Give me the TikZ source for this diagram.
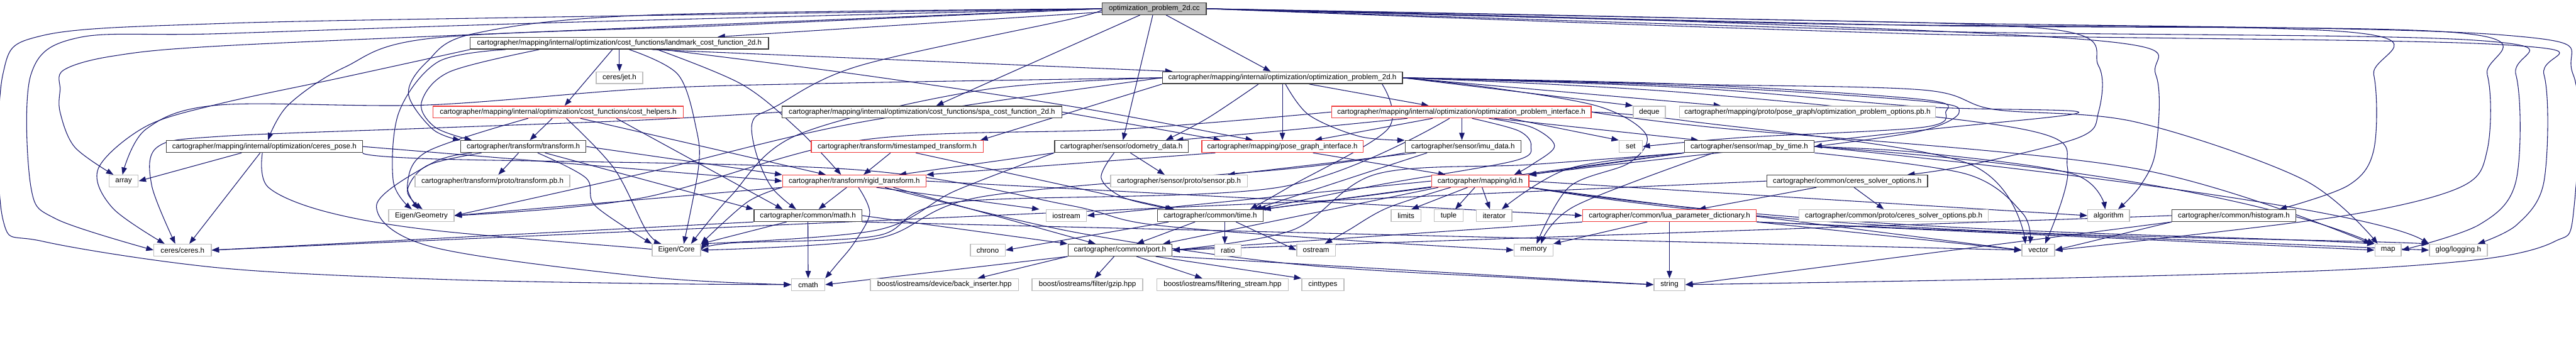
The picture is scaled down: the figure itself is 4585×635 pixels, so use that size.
\documentclass[tikz,border=0pt]{standalone}
\usepackage{fontspec}
\setmainfont{Liberation Sans}
\usetikzlibrary{arrows.meta}
\pgfdeclarelayer{bg}
\pgfsetlayers{bg,main}
\definecolor{eblue}{HTML}{191970}
\definecolor{gb}{HTML}{BFBFBF}
\definecolor{rb}{HTML}{F03C3C}
\definecolor{kb}{HTML}{404040}
\newcommand\nd[6]{\node[#6, minimum width={(#3-#2)*0.5pt}] (#1) at ({(#2+#3)/2},#4) {#5};}
\newcommand\ep[1]{\draw[e] plot[smooth,tension=0.55] coordinates {#1};}
\begin{document}
\begin{tikzpicture}[x=0.5pt,y=-0.5pt,
  bx/.style={rectangle, inner sep=0pt, minimum height=10.5pt, fill=white, line width=0.8pt, font=\fontsize{6.5}{7}\selectfont, text=black},
  nblk/.style={bx, draw=kb},
  ngry/.style={bx, draw=gb},
  nred/.style={bx, draw=rb},
  nmain/.style={bx, draw=kb, fill=gb},
  e/.style={draw=eblue, line width=0.6pt, -{Triangle[length=6.5pt,width=4.8pt]}}]
\useasboundingbox (0,0) rectangle (4585,635);
% nodes
\nd{cc}{1962}{2147}{15.5}{optimization\_problem\_2d.cc}{nmain}
\nd{lm}{837}{1368}{77}{cartographer/mapping/internal/optimization/cost\_functions/landmark\_cost\_function\_2d.h}{nblk}
\nd{jet}{1061}{1144}{138.5}{ceres/jet.h}{ngry}
\nd{op2}{2069}{2496}{138.5}{cartographer/mapping/internal/optimization/optimization\_problem\_2d.h}{nblk}
\nd{ch}{771}{1216}{199.5}{cartographer/mapping/internal/optimization/cost\_functions/cost\_helpers.h}{nred}
\nd{spa}{1392}{1890}{199.5}{cartographer/mapping/internal/optimization/cost\_functions/spa\_cost\_function\_2d.h}{nblk}
\nd{opi}{2370}{2832}{199.5}{cartographer/mapping/internal/optimization/optimization\_problem\_interface.h}{nred}
\nd{deque}{2907}{2964}{199.5}{deque}{ngry}
\nd{opo}{2989}{3445}{199.5}{cartographer/mapping/proto/pose\_graph/optimization\_problem\_options.pb.h}{ngry}
\nd{cp}{296}{645}{261}{cartographer/mapping/internal/optimization/ceres\_pose.h}{nblk}
\nd{tf}{820}{1043}{261}{cartographer/transform/transform.h}{nblk}
\nd{tst}{1444}{1750}{261}{cartographer/transform/timestamped\_transform.h}{nred}
\nd{odo}{1877}{2115}{261}{cartographer/sensor/odometry\_data.h}{nblk}
\nd{pgi}{2139}{2426}{261}{cartographer/mapping/pose\_graph\_interface.h}{nred}
\nd{imu}{2501}{2707}{261}{cartographer/sensor/imu\_data.h}{nblk}
\nd{set}{2882}{2923}{261}{set}{ngry}
\nd{mbt}{2998}{3229}{261}{cartographer/sensor/map\_by\_time.h}{nblk}
\nd{arr}{194}{246}{322.5}{array}{ngry}
\nd{tpb}{739}{1014}{322.5}{cartographer/transform/proto/transform.pb.h}{ngry}
\nd{rt}{1393}{1648}{322.5}{cartographer/transform/rigid\_transform.h}{nred}
\nd{spb}{1977}{2220}{322.5}{cartographer/sensor/proto/sensor.pb.h}{ngry}
\nd{id}{2548}{2721}{322.5}{cartographer/mapping/id.h}{nred}
\nd{cso}{3145}{3431}{322.5}{cartographer/common/ceres\_solver\_options.h}{nblk}
\nd{eg}{692}{808}{384}{Eigen/Geometry}{ngry}
\nd{math}{1342}{1534}{384}{cartographer/common/math.h}{nblk}
\nd{ios}{1862}{1934}{384}{iostream}{ngry}
\nd{time}{2060}{2248}{384}{cartographer/common/time.h}{nblk}
\nd{lim}{2476}{2529}{384}{limits}{ngry}
\nd{tup}{2553}{2604}{384}{tuple}{ngry}
\nd{itr}{2628}{2691}{384}{iterator}{ngry}
\nd{lua}{2817}{3126}{384}{cartographer/common/lua\_parameter\_dictionary.h}{nred}
\nd{csopb}{3202}{3539}{384}{cartographer/common/proto/ceres\_solver\_options.pb.h}{ngry}
\nd{alg}{3716}{3790}{384}{algorithm}{ngry}
\nd{hist}{3866}{4086}{384}{cartographer/common/histogram.h}{nblk}
\nd{ceres}{274}{376}{445.5}{ceres/ceres.h}{ngry}
\nd{ec}{1161}{1247}{445.5}{Eigen/Core}{ngry}
\nd{chr}{1727}{1789}{445.5}{chrono}{ngry}
\nd{port}{1901}{2086}{445.5}{cartographer/common/port.h}{nblk}
\nd{ratio}{2162}{2209}{445.5}{ratio}{ngry}
\nd{ost}{2308}{2377}{445.5}{ostream}{ngry}
\nd{mem}{2695}{2764}{445.5}{memory}{ngry}
\nd{vec}{3599}{3657}{445.5}{vector}{ngry}
\nd{map}{4227}{4274}{445.5}{map}{ngry}
\nd{glog}{4324}{4427}{445.5}{glog/logging.h}{ngry}
\nd{cmath}{1409}{1468}{507}{cmath}{ngry}
\nd{bi}{1549}{1813}{507}{boost/iostreams/device/back\_inserter.hpp}{ngry}
\nd{gz}{1837}{2034}{507}{boost/iostreams/filter/gzip.hpp}{ngry}
\nd{fs}{2059}{2293}{507}{boost/iostreams/filtering\_stream.hpp}{ngry}
\nd{cint}{2317}{2392}{507}{cinttypes}{ngry}
\nd{str}{2944}{2999}{507}{string}{ngry}
\begin{pgfonlayer}{bg}
% cc
\draw[e] (cc) -- (op2);
\draw[e] (cc) -- (odo);
\draw[e] (cc) -- (spa);
\draw[e] (cc) -- (lm);
\ep{(cc.west) (1300,45) (770,68) (613,120) (513,187) (cp.north -| 477,0)}
\ep{(cc.west) (1000,55) (390,82) (200,100) (113,125) (107,160) (107,200) (133,262) (arr.north -| 202,0)}
\ep{(cc.west) (1000,40) (390,60) (140,67) (55,133) (55,333) (100,390) (ceres.west)}
\ep{(cc.west) (1000,30) (390,42) (77,63) (5,133) (5,390) (77,430) (390,477) (770,497) (1150,505) (cmath.west)}
\ep{(cc.west) (1150,27) (843,60) (760,110) (727,167) (770,230) (tf.north west)}
\ep{(cc.west) (1910,33) (1530,117) (1380,190) (1340,215) (1345,270) (1373,333) (math.north -| 1417,0)}
\ep{(cc.east) (3000,32) (3650,52) (3735,117) (3735,200) (3700,245) (3500,295) (cso.north -| 3395,0)}
\ep{(cc.east) (3000,38) (3760,75) (3837,133) (3837,267) (3810,330) (alg.north -| 3770,0)}
\ep{(cc.east) (3200,42) (4180,57) (4225,133) (4225,267) (4180,330) (hist.north -| 4057,0)}
\ep{(cc.east) (3400,45) (4370,58) (4427,133) (4427,267) (4380,333) (4180,383) (3800,430) (vec.east)}
\ep{(cc.east) (3400,55) (4410,72) (4478,133) (4478,323) (4413,400) (map.east)}
\ep{(cc.east) (3400,60) (4460,80) (4528,133) (4528,323) (4480,400) (glog.north -| 4410,0)}
\ep{(cc.east) (3400,40) (4450,62) (4580,133) (4580,383) (4547,430) (4430,460) (4180,480) (3800,492) (3420,500) (str.east)}
% lm
\draw[e] (lm.south -| 1160,0) -- (op2.north -| 2087,0);
\draw[e] (lm) -- (jet);
\draw[e] (lm.south -| 1090,0) -- (ch.north -| 1005,0);
\ep{(lm.south -| 1180,0) (1530,133) (1910,190) (pgi.north -| 2230,0)}
\ep{(lm.south -| 960,0) (800,128) (750,183) (775,227) (tf.north -| 840,0)}
\ep{(lm.south -| 1170,0) (1320,150) (1420,230) (rt.north -| 1497,0)}
\ep{(lm.south -| 1120,0) (1207,133) (1240,233) (1243,300) (ec.north -| 1217,0)}
\ep{(lm.south -| 900,0) (780,110) (710,200) (700,323) (eg.north -| 733,0)}
\ep{(lm.south west) (600,140) (390,185) (260,225) (175,300) (200,370) (ceres.north -| 293,0)}
% op2
\draw[e] (op2.south -| 2330,0) -- (opi.north -| 2543,0);
\draw[e] (op2) -- (pgi);
\ep{(op2.south -| 2240,0) (2150,210) (odo.north -| 2075,0)}
\ep{(op2.south -| 2288,0) (2330,205) (2420,243) (imu.north west)}
\draw[e] (op2.south west) -- (tst.north -| 1745,0);
\draw[e] (op2.east) -- (deque.north west);
\draw[e] (op2.east) -- (opo.north -| 3063,0);
\ep{(op2.east) (3000,150) (3420,177) (3463,200) (3420,227) (3100,245) (set.east)}
\ep{(op2.east) (3000,153) (3420,180) (3487,200) (3420,233) (mbt.east)}
\ep{(op2.east) (3000,156) (3420,190) (3700,200) (3420,232) (2900,290) (id.north -| 2720,0)}
\ep{(op2.east) (3000,165) (3600,230) (3680,300) (vec.north -| 3640,0)}
\ep{(op2.east) (3000,150) (3420,160) (3550,195) (3800,217) (4100,320) (map.north -| 4232,0)}
\ep{(op2.east) (2660,157) (2847,190) (2930,240) (2900,290) (2793,333) (mem.north -| 2735,0)}
\ep{(op2.west) (1500,148) (1150,158) (760,187) (390,187) (260,230) (arr.north -| 218,0)}
\ep{(op2.west) (1530,218) (1140,310) (eg.east)}
\ep{(op2.west) (1750,160) (1420,240) (1300,350) (ec.north -| 1230,0)}
\ep{(op2.south -| 2460,0) (2470,230) (2300,330) (time.north -| 2225,0)}
% ch
\draw[e] (ch.south -| 983,0) -- (tf.north -| 943,0);
\draw[e] (ch.south -| 1033,0) -- (rt.north -| 1470,0);
\draw[e] (ch.south -| 1097,0) -- (math.north -| 1393,0);
\ep{(ch.south -| 1008,0) (1093,300) (1150,410) (ec.north -| 1177,0)}
\ep{(ch.south -| 940,0) (760,270) (725,330) (eg.north -| 745,0)}
% spa
\draw[e] (spa.east) -- (pgi.north -| 2173,0);
\ep{(spa.west) (1140,214) (770,228) (390,243) (280,262) (270,330) (ceres.north -| 312,0)}
% opi
\draw[e] (opi.south -| 2550,0) -- (pgi.north -| 2340,0);
\ep{(opi.south -| 2505,0) (2280,233) (odo.north -| 2093,0)}
\draw[e] (opi.south -| 2602,0) -- (imu.north -| 2602,0);
\draw[e] (opi.south -| 2660,0) -- (mbt.north -| 3023,0);
\draw[e] (opi.south -| 2687,0) -- (set.north west);
\ep{(opi.south -| 2650,0) (2727,227) (2767,260) (2727,293) (id.north -| 2695,0)}
\ep{(opi.south -| 2620,0) (2703,233) (2725,260) (2693,287) (2450,330) (time.north -| 2240,0)}
\ep{(opi.east) (3050,227) (3800,300) (map.north -| 4220,0)}
\ep{(opi.east) (3000,215) (3500,290) (vec.north -| 3605,0)}
\ep{(opi.south -| 2580,0) (2280,333) (1700,360) (1560,420) (1300,433) (ec.east)}
\ep{(opi.west) (2000,230) (1530,250) (1140,353) (eg.east)}
% cp
\draw[e] (cp.south -| 430,0) -- (arr.east);
\draw[e] (cp.south -| 463,0) -- (ceres.north -| 337,0);
\ep{(cp.south -| 467,0) (477,333) (580,377) (770,410) (1150,443) (ec.west)}
\draw[e] (cp.east) -- (rt.west);
\ep{(cp.south east) (770,283) (1520,302) (1900,365) (2050,400) (2400,428) (mem.west)}
% tf
\draw[e] (tf.south -| 923,0) -- (tpb.north -| 887,0);
\draw[e] (tf.east) -- (rt.north west);
\draw[e] (tf.south -| 970,0) -- (math.north west);
\ep{(tf.south -| 857,0) (760,295) (725,340) (eg.north -| 752,0)}
\ep{(tf.south -| 957,0) (1043,317) (1060,367) (ec.north west)}
\ep{(tf.south -| 840,0) (770,290) (670,367) (770,440) (1150,493) (cmath.west)}
% tst
\draw[e] (tst.south -| 1585,0) -- (rt.north -| 1537,0);
\draw[e] (tst.south -| 1630,0) -- (time.north -| 2090,0);
% odo
\draw[e] (odo.south -| 2012,0) -- (spb.north -| 2073,0);
\ep{(odo.south -| 1983,0) (1960,317) (2000,352) (time.north -| 2087,0)}
\draw[e] (odo.south west) -- (rt.north -| 1600,0);
\ep{(odo.south west) (1700,340) (1560,410) (ec.north east)}
% pgi
\draw[e] (pgi.south -| 2337,0) -- (id.north -| 2573,0);
\draw[e] (pgi.south -| 2163,0) -- (rt.north east);
% imu
\draw[e] (imu.south -| 2520,0) -- (spb.north -| 2185,0);
\draw[e] (imu.south -| 2540,0) -- (time.north -| 2233,0);
\ep{(imu.south west) (2300,300) (1750,350) (1560,425) (ec.east)}
% rt
\ep{(rt.south -| 1528,0) (1548,380) (1520,433) (1490,470) (cmath.north east)}
\draw[e] (rt.south -| 1507,0) -- (math.north -| 1457,0);
\draw[e] (rt.south -| 1560,0) -- (ios.north -| 1850,0);
\ep{(rt.south -| 1575,0) (1910,413) (2300,470) (2700,495) (str.west)}
\ep{(rt.south west) (1330,360) (ec.north east)}
\draw[e] (rt.south west) -- (eg.east);
\draw[e] (rt.east) -- (lua.west);
\draw[e] (rt.south -| 1590,0) -- (port.north -| 1950,0);
% math
\draw[e] (math) -- (cmath);
\draw[e] (math.south -| 1400,0) -- (ec.north east);
\draw[e] (math.south west) -- (ceres.east);
\draw[e] (math.east) -- (port.north west);
\draw[e] (math.south east) -- (vec.west);
% time
\draw[e] (time.south -| 2080,0) -- (chr.east);
\draw[e] (time.south -| 2180,0) -- (ratio.north -| 2180,0);
\draw[e] (time.south -| 2127,0) -- (port.north -| 2023,0);
\draw[e] (time.south -| 2200,0) -- (ost.west);
% port
\draw[e] (port.south west) -- (bi.north -| 1740,0);
\draw[e] (port.south -| 1983,0) -- (gz.north -| 1948,0);
\draw[e] (port.south -| 2023,0) -- (fs.north -| 2140,0);
\draw[e] (port.south -| 2057,0) -- (cint.north west);
\draw[e] (port.south west) -- (cmath.east);
\draw[e] (port.south east) -- (str.west);
% id
\draw[e] (id.south -| 2612,0) -- (lim.north -| 2512,0);
\draw[e] (id.south -| 2625,0) -- (tup.north -| 2590,0);
\draw[e] (id.south -| 2638,0) -- (itr.north -| 2652,0);
\ep{(id.south -| 2582,0) (2470,370) (2400,410) (ost.north -| 2358,0)}
\draw[e] (id.south west) -- (time.north east);
\draw[e] (id.south -| 2560,0) -- (port.north -| 2070,0);
\draw[e] (id.west) -- (ios.east);
\draw[e] (id.east) -- (alg.west);
\draw[e] (id.south east) .. controls (3300,420) and (3900,415) .. (map.north west);
\draw[e] (id.south east) -- (vec.west);
\draw[e] (id.south east) .. controls (3300,430) and (4000,420) .. (glog.north west);
% mbt
\ep{(mbt.east) (3420,272) (3690,310) (alg.north -| 3747,0)}
\ep{(mbt.south west) (2793,300) (itr.north -| 2673,0)}
\draw[e] (mbt.east) .. controls (3800,300) and (4100,380) .. (map.north west);
\ep{(mbt.south -| 3050,0) (2803,367) (mem.north -| 2743,0)}
\ep{(mbt.south east) (3500,310) (3600,380) (vec.north -| 3613,0)}
\ep{(mbt.south west) (2727,293) (2450,310) (2300,410) (port.east)}
\draw[e] (mbt.south west) -- (time.north east);
\draw[e] (mbt.south west) -- (id.north east);
\draw[e] (mbt.east) .. controls (3900,330) and (4250,390) .. (glog.north west);
% lua
\draw[e] (lua) -- (str);
\draw[e] (lua.south -| 2932,0) -- (mem.north east);
\draw[e] (lua.south east) -- (map.west);
\draw[e] (lua.south east) -- (vec.west);
\draw[e] (lua.south west) -- (port.east);
\draw[e] (lua.south east) -- (glog.west);
% cso
\draw[e] (cso.south -| 3300,0) -- (csopb.north -| 3353,0);
\draw[e] (cso.south -| 3233,0) -- (lua.north -| 3023,0);
\draw[e] (cso.west) -- (ceres.east);
% hist
\draw[e] (hist.west) -- (port.east);
\draw[e] (hist.south west) -- (vec.east);
\draw[e] (hist.south west) -- (str.east);
\end{pgfonlayer}
\end{tikzpicture}
\end{document}
